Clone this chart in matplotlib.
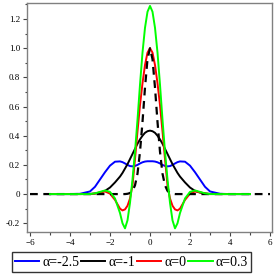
import matplotlib
matplotlib.use("Agg")
import matplotlib.pyplot as plt
from matplotlib.ticker import MultipleLocator

plt.rcParams['font.family'] = ['Liberation Serif', 'DejaVu Serif']

# sample points
x = [-5, -4.5, -4, -3.5, -3, -2.75, -2.5, -2.25, -2, -1.75, -1.5, -1.375, -1.25,
     -1.125, -1, -0.875, -0.75, -0.625, -0.5, -0.375, -0.25, -0.125, 0,
     0.125, 0.25, 0.375, 0.5, 0.625, 0.75, 0.875, 1, 1.125, 1.25, 1.375, 1.5,
     1.75, 2, 2.25, 2.5, 2.75, 3, 3.5, 4, 4.5, 5]

blue = [0, 0, 0, 0.002, 0.018, 0.05, 0.1, 0.15, 0.195, 0.222, 0.224, 0.219, 0.21,
        0.2, 0.192, 0.19, 0.193, 0.2, 0.21, 0.218, 0.223, 0.225, 0.225,
        0.225, 0.223, 0.218, 0.21, 0.2, 0.193, 0.19, 0.192, 0.2, 0.21, 0.219, 0.224,
        0.222, 0.195, 0.15, 0.1, 0.05, 0.018, 0.002, 0, 0, 0]

black = [0, 0, 0, 0, 0.001, 0.004, 0.01, 0.022, 0.045, 0.08, 0.12, 0.145, 0.175,
         0.205, 0.24, 0.275, 0.31, 0.345, 0.375, 0.4, 0.42, 0.431, 0.435,
         0.431, 0.42, 0.4, 0.375, 0.345, 0.31, 0.275, 0.24, 0.205, 0.175, 0.145, 0.12,
         0.08, 0.045, 0.022, 0.01, 0.004, 0.001, 0, 0, 0, 0]

red = [0, 0, 0, 0, 0, 0.004, 0.012, 0.018, 0.003, -0.04, -0.1, -0.112, -0.105,
       -0.08, -0.03, 0.06, 0.24, 0.43, 0.61, 0.76, 0.885, 0.97, 1.0,
       0.97, 0.885, 0.76, 0.61, 0.43, 0.24, 0.06, -0.03, -0.08, -0.105, -0.112, -0.1,
       -0.04, 0.003, 0.018, 0.012, 0.004, 0, 0, 0, 0, 0]

green = [0, 0, 0, 0, 0, 0.005, 0.015, 0.025, 0.015, -0.03, -0.13, -0.2, -0.235,
         -0.18, -0.06, 0.1, 0.29, 0.51, 0.75, 0.97, 1.14, 1.25, 1.29,
         1.25, 1.14, 0.97, 0.75, 0.51, 0.29, 0.1, -0.06, -0.18, -0.235, -0.2, -0.13,
         -0.03, 0.015, 0.025, 0.015, 0.005, 0, 0, 0, 0, 0]

x_dash = [-6] + x + [6]
dash = [0, 0, 0, 0, 0, 0, 0, 0, 0, 0, 0, 0, 0, 0,
        0.002, 0.007, 0.022, 0.06, 0.14, 0.29, 0.495, 0.73, 0.925, 1.0,
        0.925, 0.73, 0.495, 0.29, 0.14, 0.06, 0.022, 0.007, 0.002, 0, 0,
        0, 0, 0, 0, 0, 0, 0, 0, 0, 0, 0, 0]

labels = ['α=-2.5', 'α=-1', 'α=0', 'α=0.3']
colors = ['#0000ff', '#000000', '#ff0000', '#00ff00']

fig = plt.figure(figsize=(2.77, 2.77), dpi=100)
ax = fig.add_axes([27 / 277, 1 - 232 / 277, 245 / 277, 229 / 277])

l1, = ax.plot(x, blue, color=colors[0], lw=1.4)
l2, = ax.plot(x, black, color=colors[1], lw=1.4)
l3, = ax.plot(x, red, color=colors[2], lw=1.4)
ax.plot(x_dash, dash, color='black', lw=1.6, ls=(0, (3.5, 2.5)))
l4, = ax.plot(x, green, color=colors[3], lw=1.4)

ax.set_xlim(-6.15, 6.1)
ax.set_ylim(-0.26, 1.31)
ax.xaxis.set_major_locator(MultipleLocator(2))
ax.xaxis.set_minor_locator(MultipleLocator(1))
ax.yaxis.set_major_locator(MultipleLocator(0.2))
ax.yaxis.set_minor_locator(MultipleLocator(0.1))
ax.set_yticks([-0.2, 0, 0.2, 0.4, 0.6, 0.8, 1.0, 1.2])
ax.set_yticklabels(['-0.2', '0', '0.2', '0.4', '0.6', '0.8', '1.0', '1.2'])
ax.tick_params(labelsize=6.5, length=3, width=0.8, color='#444444', pad=2)
ax.tick_params(which='minor', length=1.8, width=0.8, color='#444444')
for s in ax.spines.values():
    s.set_color('#808080')
    s.set_linewidth(1.0)

fig.legend([l1, l2, l3, l4], labels, loc='lower center', bbox_to_anchor=(0.474, 0.018),
           ncol=4, fontsize=10, frameon=True, fancybox=False, edgecolor='black',
           handlelength=1.75, handletextpad=0.2, columnspacing=0.15, borderpad=0.25,
           borderaxespad=0)
leg = fig.legends[0]
leg.get_frame().set_linewidth(1.0)

fig.savefig('out.png', dpi=100)
